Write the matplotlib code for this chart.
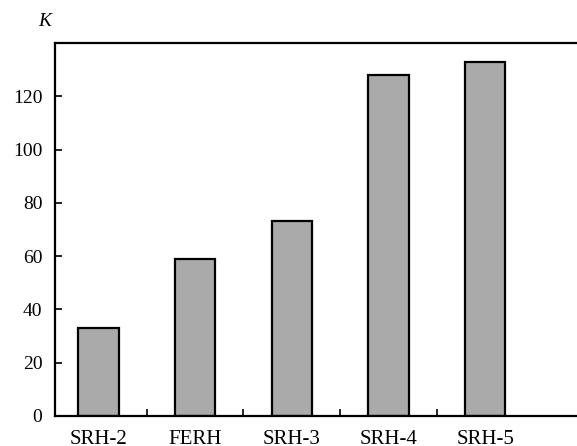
import matplotlib
matplotlib.use("Agg")
import matplotlib.pyplot as plt
import numpy as np

categories = ["SRH-2", "FERH", "SRH-3", "SRH-4", "SRH-5"]
k_values = [33, 59, 73, 128, 133]
y_ticks = [0, 20, 40, 60, 80, 100, 120]

plt.rcParams['font.family'] = ['Liberation Serif', 'DejaVu Serif']

fig = plt.figure(figsize=(5.77, 4.46), dpi=100)
ax = fig.add_axes([0.0953, 0.0673, 0.9047, 0.8363])

x = np.arange(len(categories))
ax.bar(x, k_values, width=0.42, color='#aaaaaa', edgecolor='black', linewidth=1.6, zorder=2)

ax.set_xlim(-0.45, 4.95)
ax.set_ylim(0, 140)
ax.set_yticks(y_ticks)
ax.set_xticks(x)
ax.set_xticklabels(categories)
ax.set_xticks(x[:-1] + 0.5, minor=True)

ax.tick_params(axis='x', which='major', length=0, pad=10, labelsize=15)
ax.tick_params(axis='x', which='minor', direction='in', length=5, width=1.2)
ax.tick_params(axis='y', direction='in', length=5, width=1.2, labelsize=14, pad=9)

for side in ['left', 'bottom', 'top']:
    ax.spines[side].set_linewidth(1.6)
ax.spines['right'].set_visible(False)

fig.text(45 / 577, 1 - 22 / 446, 'K', fontsize=14, style='italic', ha='center', va='center')

fig.savefig('out.png', dpi=100)
